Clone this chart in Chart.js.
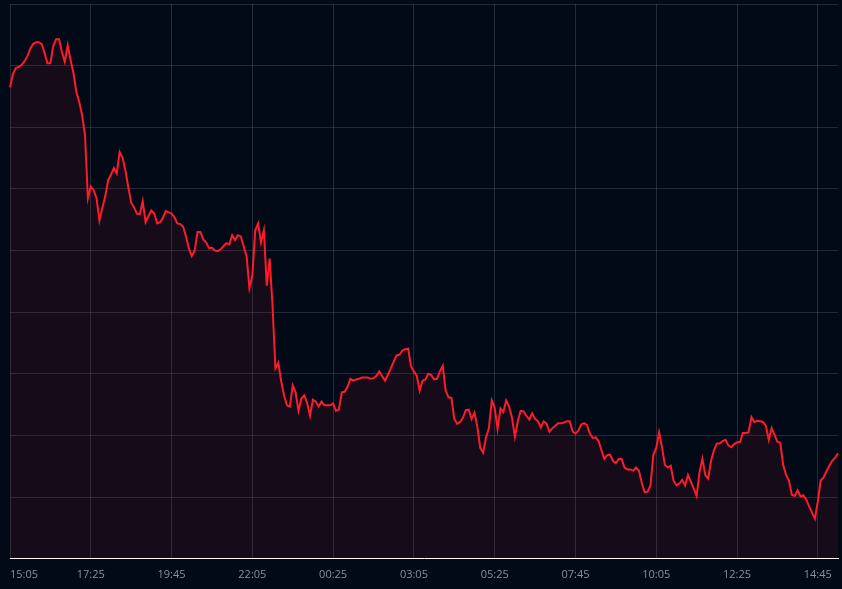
<!DOCTYPE html>
<html>
<head>
<meta charset="utf-8">
<script src="https://cdn.jsdelivr.net/npm/chart.js"></script>
<style>
  html, body { margin: 0; padding: 0; background: #030a17; }
  #wrap { width: 842px; height: 589px; position: relative; }
</style>
</head>
<body>
<div id="wrap"><canvas id="chart"></canvas></div>
<script>
// 5-minute samples over 24h, one tick label every 28 samples
const tickLabels = ['15:05', '17:25', '19:45', '22:05', '00:25', '03:05', '05:25', '07:45', '10:05', '12:25', '14:45'];
const tickEvery = 28;

const prices = [
  76.5, 78.6, 79.6, 79.8, 80.1, 80.7, 81.5, 82.7, 83.5, 83.8, 83.8, 83.5, 82.0, 80.4, 80.4, 83.2, 84.3, 84.3, 82.2, 80.6,
  83.3, 80.9, 78.8, 75.7, 74.1, 72.0, 68.7, 58.5, 60.4, 59.8, 58.5, 54.9, 56.9, 58.8, 61.4, 62.3, 63.4, 62.5, 66.0, 65.1,
  63.0, 60.3, 57.8, 57.0, 56.0, 55.9, 58.0, 54.6, 55.6, 56.5, 56.0, 54.4, 54.6, 55.3, 56.4, 56.2, 56.0, 55.4, 54.4, 54.3,
  53.9, 52.3, 50.4, 49.1, 50.0, 53.0, 53.0, 51.8, 51.3, 50.4, 50.5, 50.0, 49.9, 50.2, 50.7, 51.2, 51.0, 52.5, 51.7, 52.5,
  52.3, 50.7, 49.1, 43.9, 46.0, 53.3, 54.4, 51.3, 53.3, 44.3, 48.7, 41.1, 30.9, 31.8, 28.8, 26.5, 24.9, 24.7, 28.1, 27.0,
  24.0, 26.0, 26.5, 25.3, 23.2, 25.8, 25.5, 24.7, 25.5, 24.9, 24.9, 24.9, 25.2, 24.0, 24.2, 27.0, 27.1, 27.9, 29.2, 28.9,
  29.1, 29.2, 29.4, 29.4, 29.4, 29.2, 29.3, 29.7, 30.4, 29.6, 28.9, 29.9, 30.9, 32.0, 33.0, 33.1, 33.8, 34.0, 34.1, 31.2,
  30.4, 29.7, 27.3, 28.9, 29.1, 30.0, 29.8, 29.1, 29.2, 30.4, 31.3, 27.3, 26.2, 26.1, 22.7, 21.9, 22.2, 22.9, 24.1, 24.2,
  22.7, 23.7, 21.4, 18.0, 17.2, 19.7, 21.2, 25.7, 24.5, 21.1, 24.4, 23.8, 25.7, 24.7, 22.9, 19.8, 22.3, 24.0, 23.9, 23.2,
  22.6, 23.6, 22.7, 22.3, 21.3, 22.3, 21.9, 20.6, 21.2, 21.6, 22.0, 22.0, 22.1, 22.3, 22.3, 20.7, 20.3, 20.8, 21.8, 22.0,
  21.7, 20.3, 19.6, 19.7, 19.1, 17.6, 16.2, 16.8, 16.9, 15.9, 15.5, 16.2, 16.2, 14.8, 14.5, 14.5, 14.3, 14.8, 14.3, 12.3,
  10.8, 10.9, 11.9, 16.9, 18.0, 20.5, 18.1, 15.2, 14.8, 15.1, 12.7, 11.9, 12.2, 12.8, 11.9, 13.6, 12.5, 11.4, 10.2, 14.1,
  16.2, 13.6, 13.0, 15.9, 17.6, 18.7, 18.7, 19.1, 19.3, 18.4, 18.1, 18.6, 18.9, 18.9, 20.4, 20.4, 20.5, 23.0, 22.2, 22.4,
  22.3, 22.2, 21.6, 19.3, 21.2, 20.1, 19.0, 18.8, 15.2, 13.6, 12.7, 10.4, 10.2, 11.1, 10.1, 10.3, 9.6, 8.5, 7.5, 6.5,
  9.3, 12.7, 13.2, 14.2, 15.1, 15.9, 16.4, 17.1
];

const categories = prices.map((_, i) => i);

new Chart(document.getElementById('chart'), {
  type: 'line',
  data: {
    labels: categories,
    datasets: [{
      data: prices,
      borderColor: '#ff1a2c',
      borderWidth: 2,
      backgroundColor: 'rgba(255, 20, 45, 0.08)',
      fill: 'origin',
      tension: 0,
      pointRadius: 0,
      pointHoverRadius: 0
    }]
  },
  options: {
    responsive: true,
    maintainAspectRatio: false,
    animation: false,
    layout: { padding: { left: 10, right: 4, top: 4, bottom: 8 } },
    plugins: { legend: { display: false }, tooltip: { enabled: false } },
    scales: {
      x: {
        ticks: {
          autoSkip: false,
          maxRotation: 0,
          align: 'inner',
          padding: 0,
          color: '#8a909c',
          font: { family: 'Open Sans', size: 11 },
          callback: (value, index) => {
            if (index === categories.length - 1) return '';
            return index % tickEvery === 0 ? tickLabels[index / tickEvery] : null;
          }
        },
        grid: {
          drawTicks: true,
          tickLength: 9,
          tickColor: 'rgba(0,0,0,0)',
          color: ctx => (ctx.tick && ctx.tick.value === categories.length - 1) ? 'rgba(0,0,0,0)' : 'rgba(255,255,255,0.13)',
          lineWidth: 1
        },
        border: { display: true, color: '#ffffff', width: 1 }
      },
      y: {
        min: 0,
        max: 90,
        ticks: { display: false, stepSize: 10 },
        grid: { drawTicks: false, color: 'rgba(255,255,255,0.13)', lineWidth: 1 },
        border: { display: false }
      }
    }
  }
});
</script>
</body>
</html>
